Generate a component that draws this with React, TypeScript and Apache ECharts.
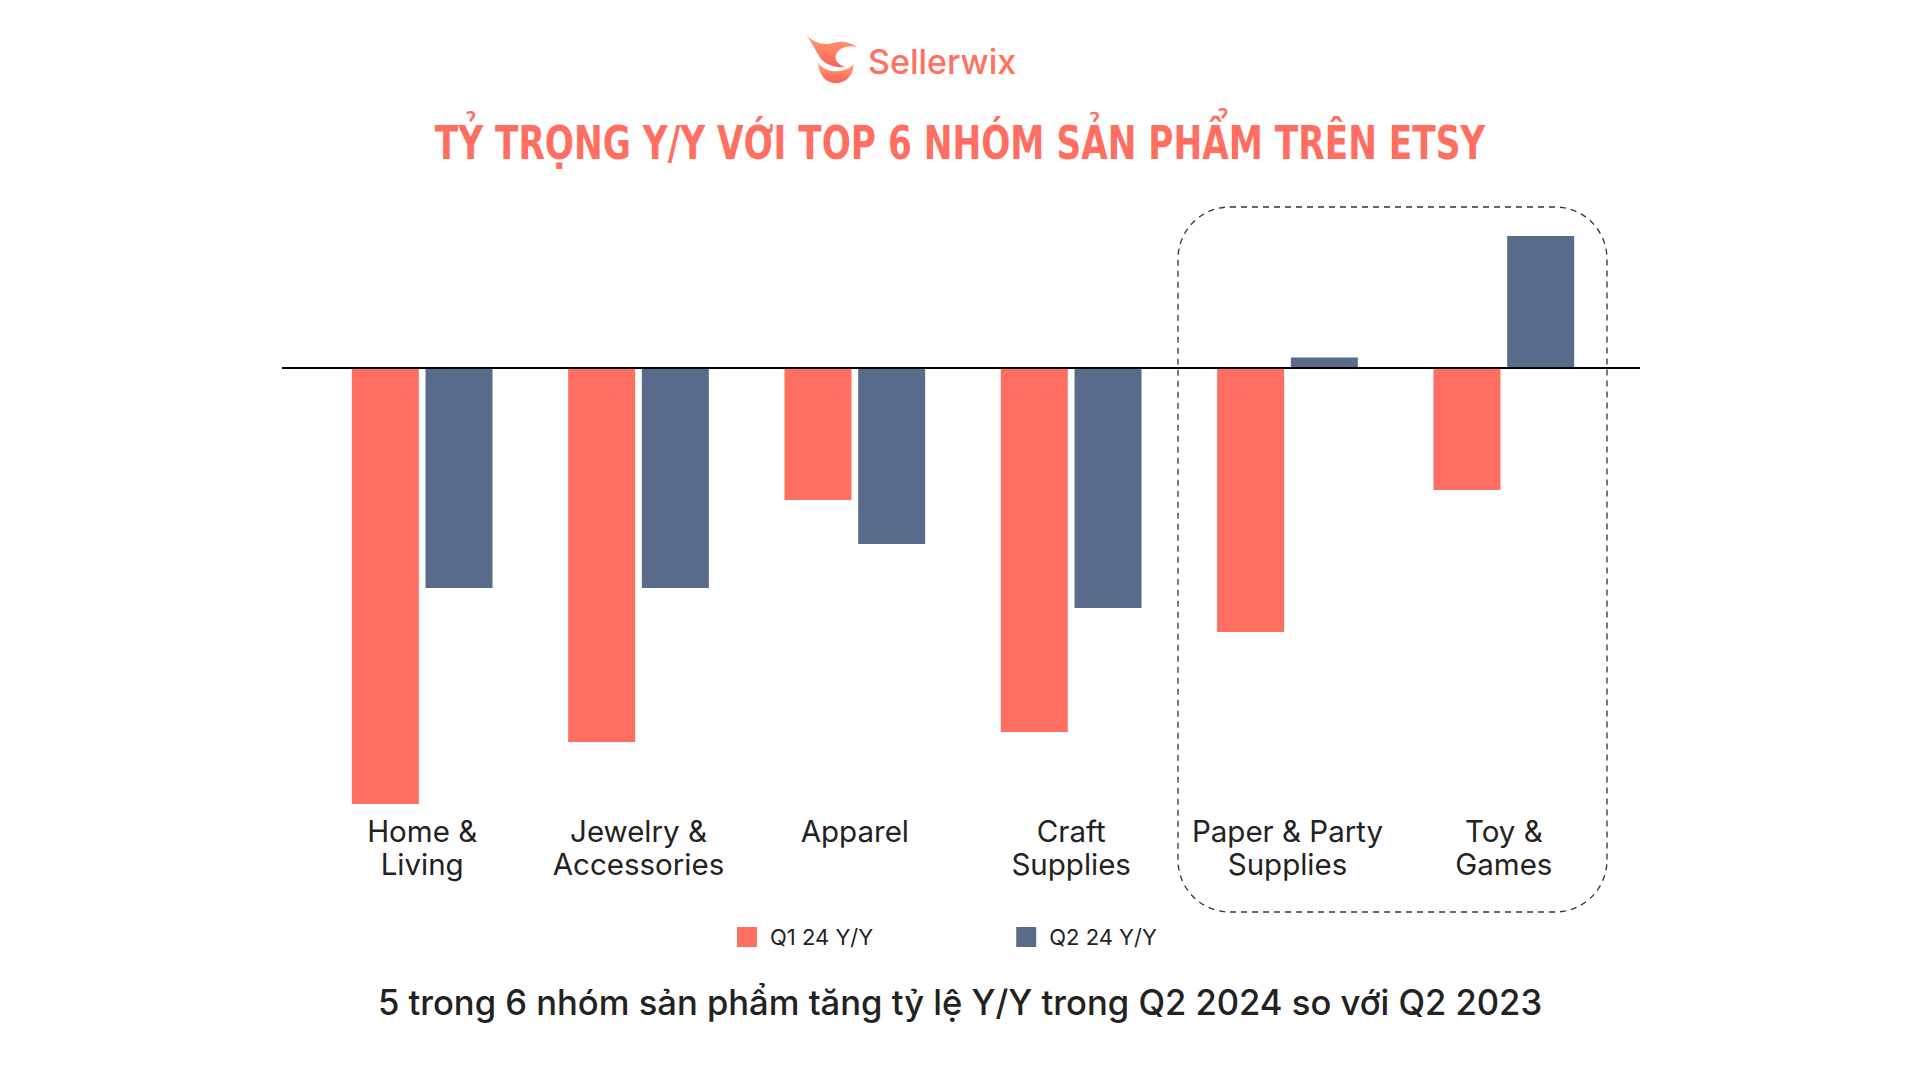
import React, { useEffect, useRef } from "react";
import * as echarts from "echarts";

const categories = ["Home &\nLiving", "Jewelry &\nAccessories", "Apparel", "Craft\nSupplies", "Paper & Party\nSupplies", "Toy &\nGames"];
const q1Values = [-10.9, -9.35, -3.3, -9.1, -6.6, -3.05];
const q2Values = [-5.5, -5.5, -4.4, -6.0, 0.26, 3.3];
const seriesNames = ["Q1 24 Y/Y", "Q2 24 Y/Y"];

const RED = "#FF6F61";
const BLUE = "#586B8A";

const logoUpper = "M0,0 C6,9 16,13 26,10 C33,8 40,8 48,14 C41,12 34,14 30,19 C26,25 29,31 37,34 C27,35 17,31 13,23 C9,15 5,8 0,0 Z";
const logoLower = "M12,30 C18,38 28,40 36,37 C40,36 43,34 45,31 C45,40 40,49 30,50 C21,51 13,44 12,30 Z";

echarts.graphic.registerShape("logoUpper", echarts.graphic.extendPath(logoUpper, {}) as any);
echarts.graphic.registerShape("logoLower", echarts.graphic.extendPath(logoLower, {}) as any);

export default function App() {
  const ref = useRef<HTMLDivElement>(null);
  useEffect(() => {
    if (!ref.current) return;
    const chart = echarts.init(ref.current, undefined, { renderer: "svg" });
    const option: any = {
      animation: false,
      backgroundColor: "#ffffff",
      grid: { left: 314, width: 1298, top: 208, height: 600 },
      legend: {
        left: 732,
        top: 921,
        itemWidth: 20,
        itemHeight: 20,
        itemGap: 143,
        icon: "rect",
        textStyle: { fontFamily: "Inter", fontSize: 22, color: "#222", padding: [0, 0, 0, 8] },
        data: seriesNames,
      },
      xAxis: {
        type: "category",
        data: categories,
        position: "bottom",
        axisLine: { show: false, onZero: false },
        axisTick: { show: false },
        axisLabel: {
          margin: 6,
          fontFamily: "Inter",
          fontSize: 29.5,
          lineHeight: 33,
          color: "#222",
          interval: 0,
        },
      },
      yAxis: {
        type: "value",
        min: -11,
        max: 4,
        show: false,
        splitLine: { show: false },
      },
      series: [
        {
          name: seriesNames[0],
          type: "bar",
          data: q1Values,
          barWidth: 67,
          barGap: "10%",
          itemStyle: { color: RED },
        },
        {
          name: seriesNames[1],
          type: "bar",
          data: q2Values,
          barWidth: 67,
          barGap: "10%",
          itemStyle: { color: BLUE },
        },
      ],
    };
    chart.setOption(option);
    const y0 = chart.convertToPixel({ yAxisIndex: 0 }, 0) as number;
    const logoGrad = new echarts.graphic.LinearGradient(0, 0, 0, 1, [
      { offset: 0, color: "#FFA56E" },
      { offset: 1, color: "#FF5E5B" },
    ]);
    chart.setOption({
      graphic: [
        {
          type: "line",
          shape: { x1: 282, y1: y0, x2: 1640, y2: y0 },
          style: { stroke: "#000", lineWidth: 2 },
          z: 10,
        },
        {
          type: "rect",
          shape: { x: 1178, y: 207, width: 429, height: 705, r: 52 },
          style: { fill: "none", stroke: "#333", lineWidth: 1.3, lineDash: [6, 5] },
          z: 5,
        },
        {
          type: "logoUpper",
          x: 805,
          y: 33,
          scaleX: 1.08,
          scaleY: 1.0,
          style: { fill: logoGrad },
        },
        {
          type: "logoLower",
          x: 805,
          y: 33,
          scaleX: 1.08,
          scaleY: 1.0,
          style: { fill: logoGrad },
        },
        {
          type: "text",
          x: 868,
          y: 61,
          style: {
            text: "Sellerwix",
            fontFamily: "Inter",
            fontSize: 34,
            fontWeight: 500,
            fill: "#FF705F",
            verticalAlign: "middle",
          },
        },
        {
          type: "text",
          x: 960,
          y: 143,
          scaleX: 0.746,
          style: {
            text: "TỶ TRỌNG Y/Y VỚI TOP 6 NHÓM SẢN PHẨM TRÊN ETSY",
            fontFamily: "'DejaVu Sans', sans-serif",
            fontSize: 46,
            fontWeight: "bold",
            fill: RED,
            align: "center",
            verticalAlign: "middle",
          },
        },
        {
          type: "text",
          x: 960,
          y: 1002,
          scaleX: 0.988,
          style: {
            text: "5 trong 6 nhóm sản phẩm tăng tỷ lệ Y/Y trong Q2 2024 so với Q2 2023",
            fontFamily: "Inter",
            fontSize: 35,
            fontWeight: 500,
            fill: "#222",
            align: "center",
            verticalAlign: "middle",
          },
        },
      ],
    });
    return () => chart.dispose();
  }, []);
  return (
    <div
      ref={ref}
      style={{ position: "absolute", left: 0, top: 0, width: 1920, height: 1080 }}
    />
  );
}
